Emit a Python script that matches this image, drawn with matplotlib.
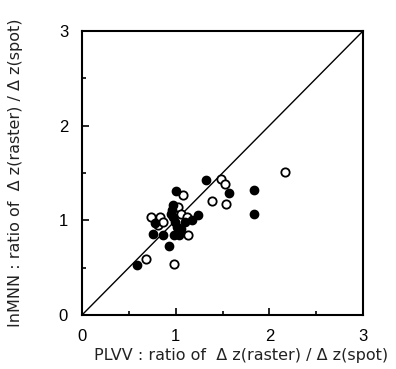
import matplotlib
matplotlib.use('Agg')
import matplotlib.pyplot as plt
import numpy as np

# filled circles
filled_x = [0.59, 0.76, 0.78, 0.87, 0.93, 0.96, 0.97, 0.98, 0.99, 1.00, 1.01,
            1.04, 1.06, 1.10, 1.17, 1.24, 1.32, 1.57, 1.84, 1.84, 0.97, 0.95]
filled_y = [0.525, 0.86, 0.97, 0.84, 0.73, 1.11, 1.04, 0.85, 0.98, 1.31, 0.93,
            0.84, 0.91, 0.98, 1.00, 1.06, 1.425, 1.29, 1.32, 1.07, 1.16, 1.07]

# open circles
open_x = [0.68, 0.98, 0.74, 0.83, 0.81, 0.86, 1.03, 1.06, 1.08, 1.13, 1.39,
          1.48, 1.53, 1.54, 2.17, 1.12]
open_y = [0.595, 0.535, 1.04, 1.04, 0.95, 0.98, 1.14, 1.07, 1.27, 0.85, 1.207,
          1.436, 1.38, 1.17, 1.51, 1.03]

xlabel = 'PLVV : ratio of  \u0394 z(raster) / \u0394 z(spot)'
ylabel = 'InMNN : ratio of  \u0394 z(raster) / \u0394 z(spot)'

plt.rcParams['font.family'] = ['Liberation Sans', 'DejaVu Sans']

fig = plt.figure(figsize=(3.96, 3.69), dpi=100)
ax = fig.add_axes([82 / 396, 1 - 315 / 369, 281 / 396, 284 / 369])

ax.plot([0, 3], [0, 3], color='black', lw=1.0, zorder=1)
ax.plot(open_x, open_y, 'o', mfc='white', mec='black', mew=1.3, ms=6,
        linestyle='none', zorder=2)
ax.plot(filled_x, filled_y, 'o', mfc='black', mec='black', ms=6,
        linestyle='none', zorder=3)

ax.set_xlim(0, 3)
ax.set_ylim(0, 3)
ax.set_xticks([0, 1, 2, 3])
ax.set_yticks([0, 1, 2, 3])
ax.set_xticks(np.arange(0.5, 3, 1.0), minor=True)
ax.set_yticks(np.arange(0.5, 3, 1.0), minor=True)
ax.tick_params(which='both', direction='in', width=1.2, labelsize=12)
ax.tick_params(which='major', length=5, pad=10)
ax.tick_params(which='minor', length=3)
for s in ax.spines.values():
    s.set_linewidth(1.5)

ax.set_xlabel(xlabel, fontsize=11.5, family=['DejaVu Sans'], color='#222222')
ax.set_ylabel(ylabel, fontsize=11.5, family=['DejaVu Sans'], color='#222222')
ax.xaxis.set_label_coords(0.565, -0.115)
ax.yaxis.set_label_coords(-0.21, 0.5)

fig.savefig('out.png', dpi=100)
